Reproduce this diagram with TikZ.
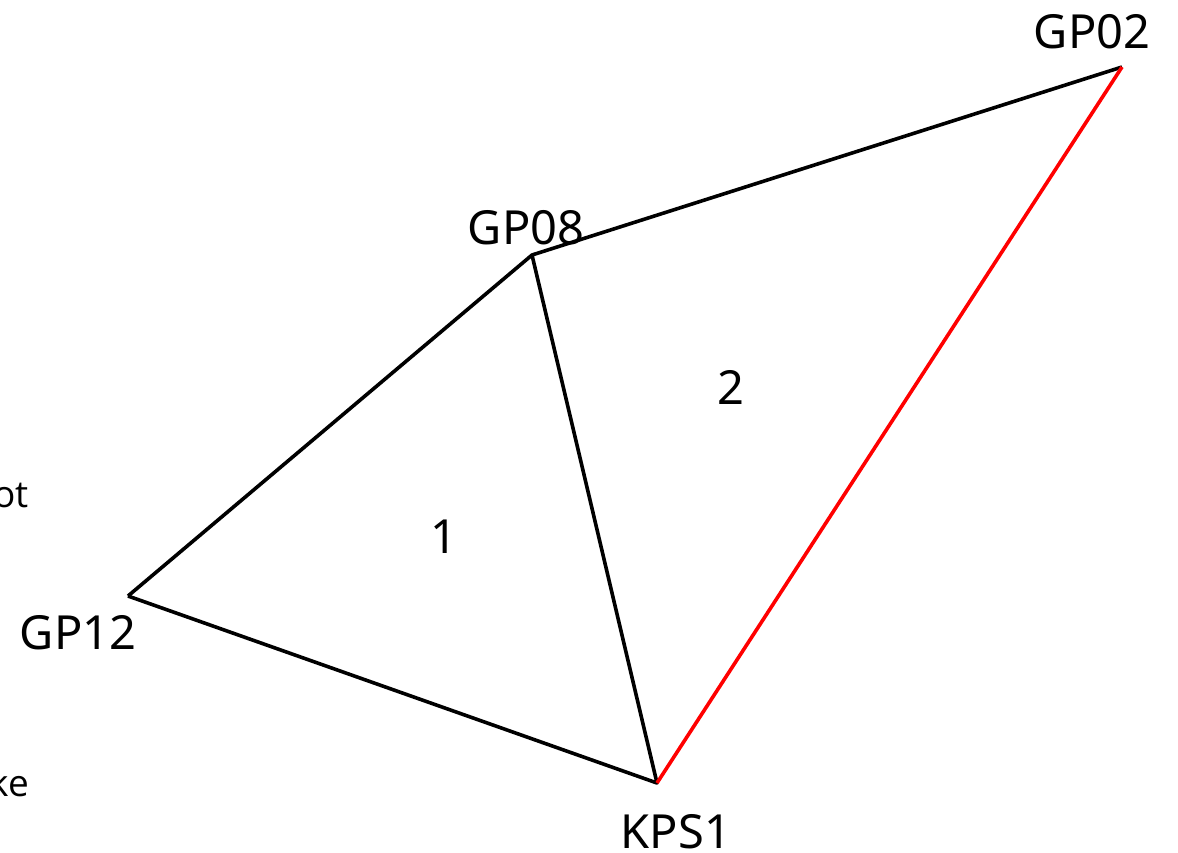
\documentclass[tikz,border=0pt]{standalone}
\usepackage{fontspec}
\setmainfont{Noto Sans}
\newfontfamily\thinfont{Open Sans}
\begin{document}
\begin{tikzpicture}[x=1pt,y=-1pt,
  edge/.style={line width=3.6pt,black,line join=round},
  rededge/.style={line width=3.6pt,red},
  lab/.style={font=\fontsize{47}{50}\selectfont,inner sep=0pt},
  cut/.style={font=\thinfont\fontsize{37}{40}\selectfont,inner sep=0pt,anchor=base east}]
\useasboundingbox (0,0) rectangle (1178,852);
\clip (0,0) rectangle (1178,852);
\coordinate (GP02) at (1122,67);
\coordinate (GP08) at (532,255);
\coordinate (GP12) at (128,596);
\coordinate (KPS1) at (657,783);
\draw[edge] (GP12) -- (GP08) -- (GP02);
\draw[edge] (GP08) -- (KPS1) -- (GP12);
\draw[rededge] (KPS1) -- (GP02);
\node[lab] (lGP02) at (1092,32) {GP02};
\node[lab] (lGP08) at (526,228) {GP08};
\node[lab] (lGP12) at (78,633) {GP12};
\node[lab] (lKPS1) at (676,832) {KPS1};
\node[lab] (n1) at (444,537) {1};
\node[lab] (n2) at (731,387) {2};
\node[cut] (ot) at (29,507) {ot};
\node[cut] (ke) at (29,796) {ke};
\end{tikzpicture}
\end{document}
